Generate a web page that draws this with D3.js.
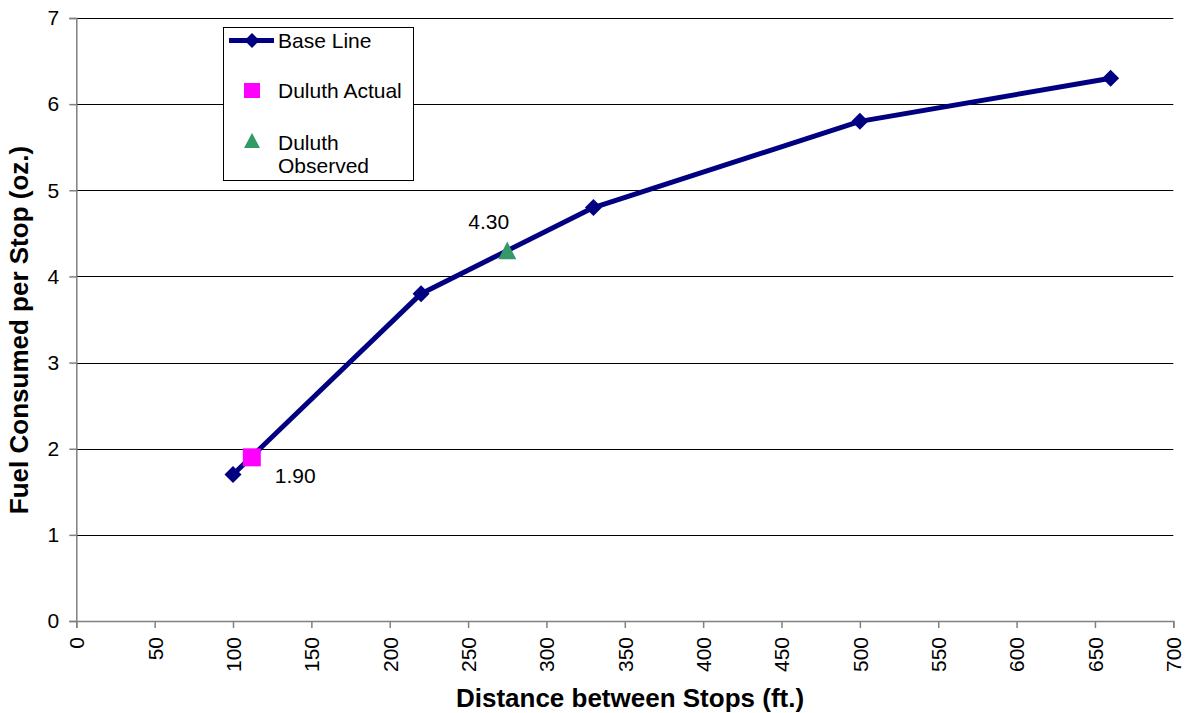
<!DOCTYPE html>
<html>
<head>
<meta charset="utf-8">
<script src="https://cdn.jsdelivr.net/npm/d3@7"></script>
<style>
  html, body { margin: 0; padding: 0; background: #fff; }
  svg { display: block; font-family: "Liberation Sans", Arial, sans-serif; }
</style>
</head>
<body>
<svg id="chart" width="1188" height="713"></svg>
<script>
// Base line: fuel per stop at each stop spacing
const baseDistance = [100, 220, 330, 500, 660];
const baseFuel = [1.7, 3.8, 4.8, 5.8, 6.3];
// Duluth points
const actualDistance = [112];
const actualFuel = [1.90];
const observedDistance = [275];
const observedFuel = [4.30];

const xTicks = d3.range(0, 701, 50);
const yTicks = d3.range(0, 8, 1);

const seriesNames = ["Base Line", "Duluth Actual", "Duluth Observed"];

const FONT = "'Liberation Sans', Arial, sans-serif";
const svg = d3.select("#chart");
const plot = { left: 76.3, right: 1173.3, top: 18, bottom: 621 };

const x = d3.scaleLinear().domain([0, 700]).range([plot.left, plot.right]);
const y = d3.scaleLinear().domain([0, 7]).range([plot.bottom, plot.top]);

// horizontal gridlines
svg.append("g")
  .selectAll("line")
  .data(yTicks.filter(d => d > 0))
  .join("line")
  .attr("x1", x(0)).attr("x2", x(700))
  .attr("y1", d => Math.round(y(d)) + 0.5).attr("y2", d => Math.round(y(d)) + 0.5)
  .attr("stroke", "#000").attr("stroke-width", 1);

// y axis
const yAxis = svg.append("g")
  .attr("transform", `translate(${x(0)},0)`)
  .call(d3.axisLeft(y).tickValues(yTicks).tickSize(7).tickPadding(10).tickFormat(d3.format("d")));
yAxis.select(".domain").attr("stroke", "#808080").attr("stroke-width", 1.5);
yAxis.selectAll(".tick line").attr("stroke", "#808080").attr("stroke-width", 1.5);
yAxis.selectAll("text").attr("font-size", 21).attr("fill", "#000")
  .attr("font-family", FONT);

// x axis
const xAxis = svg.append("g")
  .attr("transform", `translate(0,${y(0)})`)
  .call(d3.axisBottom(x).tickValues(xTicks).tickSize(7).tickFormat(d3.format("d")));
xAxis.select(".domain").attr("stroke", "#808080").attr("stroke-width", 1.5);
xAxis.selectAll(".tick line").attr("stroke", "#808080").attr("stroke-width", 1.5);
xAxis.selectAll("text")
  .attr("font-size", 21).attr("fill", "#000")
  .attr("font-family", FONT)
  .attr("transform", "rotate(-90)")
  .attr("text-anchor", "end")
  .attr("x", -16).attr("y", 0).attr("dy", "0.35em");

// axis titles
svg.append("text")
  .attr("x", 630).attr("y", 707)
  .attr("text-anchor", "middle")
  .attr("font-size", 26).attr("font-weight", "bold")
  .text("Distance between Stops (ft.)");
svg.append("text")
  .attr("transform", "translate(28,330) rotate(-90)")
  .attr("text-anchor", "middle")
  .attr("font-size", 26).attr("font-weight", "bold")
  .text("Fuel Consumed per Stop (oz.)");

// base line
const basePts = baseDistance.map((d, i) => [d, baseFuel[i]]);
svg.append("path")
  .datum(basePts)
  .attr("d", d3.line().x(d => x(d[0])).y(d => y(d[1])))
  .attr("fill", "none").attr("stroke", "#000080").attr("stroke-width", 5)
  .attr("stroke-linejoin", "round");

svg.append("g").selectAll("path")
  .data(basePts)
  .join("path")
  .attr("d", "M0,-8.5L8.5,0L0,8.5L-8.5,0Z")
  .attr("transform", d => `translate(${x(d[0])},${y(d[1])})`)
  .attr("fill", "#000080");

// Duluth actual
const actualPts = actualDistance.map((d, i) => [d, actualFuel[i]]);
svg.append("g").selectAll("rect")
  .data(actualPts)
  .join("rect")
  .attr("x", d => x(d[0]) - 9).attr("y", d => y(d[1]) - 9)
  .attr("width", 18).attr("height", 18)
  .attr("fill", "#ff00ff");
svg.append("g").selectAll("text")
  .data(actualPts)
  .join("text")
  .attr("x", d => x(d[0]) + 23).attr("y", d => y(d[1]) + 26)
  .attr("font-size", 21).attr("fill", "#000")
  .text(d => d[1].toFixed(2));

// Duluth observed
const observedPts = observedDistance.map((d, i) => [d, observedFuel[i]]);
svg.append("g").selectAll("path")
  .data(observedPts)
  .join("path")
  .attr("d", "M0,-9L9,8.7L-9,8.7Z")
  .attr("transform", d => `translate(${x(d[0])},${y(d[1])})`)
  .attr("fill", "#339966");
svg.append("g").selectAll("text")
  .data(observedPts)
  .join("text")
  .attr("x", d => x(d[0]) - 18.5).attr("y", d => y(d[1]) - 22)
  .attr("text-anchor", "middle")
  .attr("font-size", 21).attr("fill", "#000")
  .text(d => d[1].toFixed(2));

// legend
const lg = svg.append("g").attr("transform", "translate(223,27)");
lg.append("rect").attr("x", 0.5).attr("y", 0.5).attr("width", 190).attr("height", 153)
  .attr("fill", "#fff").attr("stroke", "#000").attr("stroke-width", 1);
lg.append("line").attr("x1", 6).attr("x2", 51).attr("y1", 13.5).attr("y2", 13.5)
  .attr("stroke", "#000080").attr("stroke-width", 5);
lg.append("path").attr("d", "M0,-7.5L7.5,0L0,7.5L-7.5,0Z")
  .attr("transform", "translate(29,13.5)").attr("fill", "#000080");
lg.append("rect").attr("x", 21).attr("y", 56).attr("width", 16).attr("height", 15)
  .attr("fill", "#ff00ff");
lg.append("path").attr("d", "M29,106L37,121L21,121Z").attr("fill", "#339966");
lg.append("text").attr("x", 55).attr("y", 21).attr("font-size", 21).text(seriesNames[0]);
lg.append("text").attr("x", 55).attr("y", 71).attr("font-size", 21).text(seriesNames[1]);
const obsText = lg.append("text").attr("x", 55).attr("y", 123).attr("font-size", 21);
obsText.append("tspan").attr("x", 55).text("Duluth");
obsText.append("tspan").attr("x", 55).attr("dy", 23).text("Observed");
</script>
</body>
</html>
